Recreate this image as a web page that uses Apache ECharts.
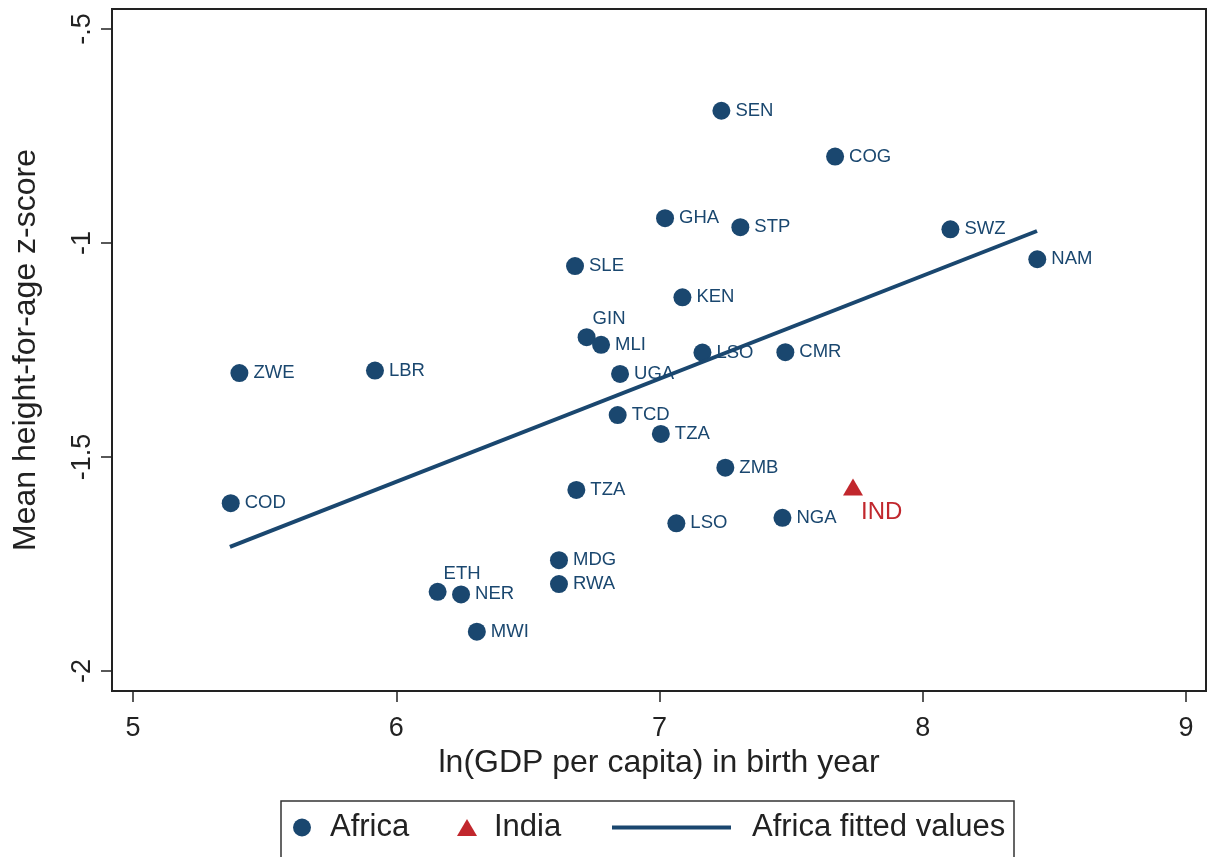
<!DOCTYPE html>
<html>
<head>
<meta charset="utf-8">
<title>HAZ vs GDP</title>
<script src="https://cdn.jsdelivr.net/npm/echarts@6/dist/echarts.min.js"></script>
<style>
	html, body { margin: 0; padding: 0; background: #fff; }
	#chart { width: 1209px; height: 857px; }
</style>
</head>
<body>
<div id="chart"></div>
<script>
	// 数据
	var africaCodes = ['SEN', 'COG', 'GHA', 'STP', 'SWZ', 'NAM', 'SLE', 'KEN', 'GIN', 'MLI',
		'LSO', 'CMR', 'ZWE', 'LBR', 'UGA', 'TCD', 'TZA', 'ZMB', 'TZA', 'COD',
		'LSO', 'NGA', 'MDG', 'RWA', 'ETH', 'NER', 'MWI'];
	var africaGdp = [7.235, 7.667, 7.021, 7.307, 8.105, 8.435, 6.679, 7.087, 6.723, 6.778,
		7.163, 7.478, 5.404, 5.919, 6.850, 6.841, 7.005, 7.250, 6.684, 5.371,
		7.064, 7.467, 6.618, 6.618, 6.157, 6.246, 6.306];
	var africaHaz = [-0.691, -0.798, -0.942, -0.963, -0.968, -1.038, -1.054, -1.127, -1.220, -1.238,
		-1.256, -1.255, -1.304, -1.298, -1.306, -1.402, -1.446, -1.525, -1.577, -1.608,
		-1.655, -1.642, -1.741, -1.797, -1.815, -1.821, -1.908];

	var indiaCodes = ['IND'];
	var indiaGdp = [7.735];
	var indiaHaz = [-1.570];

	var fitGdp = [5.368, 8.434];
	var fitHaz = [-1.710, -0.972];

	var xTicks = [5, 6, 7, 8, 9];
	var yTicks = [-2, -1.5, -1, -0.5];

	// 标签放在点的上方
	var raisedLabels = ['GIN', 'ETH'];

	var navy = '#1a476f';
	var red = '#c1272d';
	var font = '"Liberation Sans", Arial, Helvetica, sans-serif';

	var chart = echarts.init(document.getElementById('chart'));

	var africaData = africaCodes.map(function(code, i) {
		var item = { name: code, value: [africaGdp[i], africaHaz[i]] };
		if (raisedLabels.indexOf(code) >= 0) {
			item.label = { offset: [-8, -18] };
		}
		return item;
	});
	var indiaData = indiaCodes.map(function(code, i) {
		return { name: code, value: [indiaGdp[i], indiaHaz[i]] };
	});
	var fitData = fitGdp.map(function(x, i) {
		return [x, fitHaz[i]];
	});

	var legendText = { fontSize: 31, color: '#222', fontFamily: font };

	var option = {
		animation: false,
		backgroundColor: '#fff',
		textStyle: { fontFamily: font },
		grid: {
			left: 112,
			right: 3,
			top: 9,
			bottom: 166,
			show: true,
			borderColor: '#222',
			borderWidth: 2,
			backgroundColor: '#fff'
		},
		xAxis: {
			type: 'value',
			min: 4.92,
			max: 9.076,
			name: 'ln(GDP per capita) in birth year',
			nameLocation: 'middle',
			nameGap: 56,
			nameTextStyle: { fontSize: 32, color: '#222', fontFamily: font },
			axisLine: { show: false },
			splitLine: { show: false },
			axisTick: {
				show: true,
				length: 11,
				customValues: xTicks,
				lineStyle: { color: '#222', width: 1.5 }
			},
			axisLabel: {
				customValues: xTicks,
				margin: 24,
				fontSize: 27,
				color: '#222',
				fontFamily: font
			}
		},
		yAxis: {
			type: 'value',
			min: -2.0467,
			max: -0.4533,
			name: 'Mean height-for-age z-score',
			nameLocation: 'middle',
			nameGap: 70,
			nameRotate: 90,
			nameTextStyle: { fontSize: 32, color: '#222', fontFamily: font },
			axisLine: { show: false },
			splitLine: { show: false },
			axisTick: {
				show: true,
				length: 11,
				customValues: yTicks,
				lineStyle: { color: '#222', width: 1.5 }
			},
			axisLabel: {
				customValues: yTicks,
				rotate: 90,
				margin: 16,
				fontSize: 27,
				color: '#222',
				fontFamily: font,
				formatter: function(v) {
					return String(v).replace('0.', '.');
				}
			}
		},
		legend: [{
			left: 293,
			top: 812,
			padding: 0,
			itemWidth: 18,
			itemHeight: 18,
			textStyle: Object.assign({ padding: [0, 0, 0, 14] }, legendText),
			data: [{ name: 'Africa', icon: 'circle' }]
		}, {
			left: 457,
			top: 812,
			padding: 0,
			itemWidth: 20,
			itemHeight: 17,
			textStyle: Object.assign({ padding: [0, 0, 0, 12] }, legendText),
			data: [{ name: 'India', icon: 'triangle' }]
		}, {
			left: 612,
			top: 812,
			padding: 0,
			itemWidth: 119,
			itemHeight: 4,
			textStyle: Object.assign({ padding: [0, 0, 0, 16] }, legendText),
			data: [{ name: 'Africa fitted values', icon: 'path://M0,0H119V4H0Z' }]
		}],
		graphic: [{
			type: 'rect',
			shape: { x: 281, y: 801, width: 733, height: 70 },
			style: { fill: null, stroke: '#333', lineWidth: 1.5 },
			silent: true
		}],
		series: [{
			name: 'Africa',
			type: 'scatter',
			symbol: 'circle',
			symbolSize: 18,
			itemStyle: { color: navy, opacity: 1 },
			label: {
				show: true,
				position: 'right',
				distance: 5,
				formatter: '{b}',
				fontSize: 18.5,
				color: navy,
				fontFamily: font
			},
			data: africaData,
			z: 2
		}, {
			name: 'India',
			type: 'scatter',
			symbol: 'triangle',
			symbolSize: [20, 17],
			itemStyle: { color: red, opacity: 1 },
			label: {
				show: true,
				position: 'right',
				distance: 5,
				offset: [-7, 25],
				formatter: '{b}',
				fontSize: 24,
				color: red,
				fontFamily: font
			},
			data: indiaData,
			z: 2
		}, {
			name: 'Africa fitted values',
			type: 'line',
			showSymbol: false,
			symbol: 'none',
			lineStyle: { color: navy, width: 4 },
			itemStyle: { color: navy },
			data: fitData,
			z: 3
		}]
	};
	chart.setOption(option);
</script>
</body>
</html>
